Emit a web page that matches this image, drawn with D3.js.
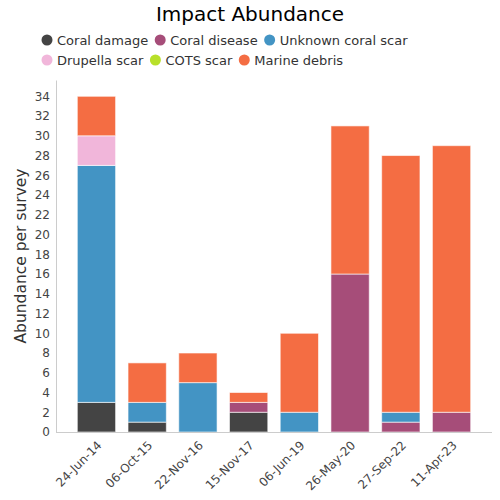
<!DOCTYPE html>
<html>
<head>
<meta charset="utf-8">
<script src="https://cdn.jsdelivr.net/npm/d3@7"></script>
<style>
  body { margin: 0; background: #fff; }
  svg { font-family: "DejaVu Sans", sans-serif; }
</style>
</head>
<body>
<div id="chart"></div>
<script>
const dates = ["24-Jun-14", "06-Oct-15", "22-Nov-16", "15-Nov-17", "06-Jun-19", "26-May-20", "27-Sep-22", "11-Apr-23"];
const seriesNames = ["Coral damage", "Coral disease", "Unknown coral scar", "Drupella scar", "COTS scar", "Marine debris"];
const seriesColors = ["#444444", "#a64d79", "#4394c4", "#f1b6da", "#b8e02a", "#f46d43"];
const coralDamage = [3, 1, 0, 2, 0, 0, 0, 0];
const coralDisease = [0, 0, 0, 1, 0, 16, 1, 2];
const unknownScar = [24, 2, 5, 0, 2, 0, 1, 0];
const drupellaScar = [3, 0, 0, 0, 0, 0, 0, 0];
const cotsScar = [0, 0, 0, 0, 0, 0, 0, 0];
const marineDebris = [4, 4, 3, 1, 8, 15, 26, 27];
const yTicks = d3.range(0, 35, 2);

const seriesValues = [coralDamage, coralDisease, unknownScar, drupellaScar, cotsScar, marineDebris];

const W = 500, H = 500;
const svg = d3.select("#chart").append("svg").attr("width", W).attr("height", H);

const table = dates.map((d, i) => {
  const row = { date: d };
  seriesNames.forEach((s, j) => row[s] = seriesValues[j][i]);
  return row;
});
const stacked = d3.stack().keys(seriesNames)(table);

const x = d3.scaleBand().domain(dates).range([56, 492]).paddingInner(0.245).paddingOuter(0.42);
const y = d3.scaleLinear().domain([0, 35.65]).range([432, 80]);

// title
svg.append("text").attr("x", 250).attr("y", 21).attr("text-anchor", "middle")
  .attr("font-size", 20).attr("fill", "#000").text("Impact Abundance");

// legend
const legendRows = [[0, 1, 2], [3, 4, 5]];
legendRows.forEach((row, r) => {
  let cx = 47;
  const cy = 40 + r * 20;
  row.forEach(j => {
    const g = svg.append("g");
    g.append("circle").attr("cx", cx).attr("cy", cy).attr("r", 5.5).attr("fill", seriesColors[j]);
    const t = g.append("text").attr("x", cx + 10).attr("y", cy + 4.5).attr("font-size", 13)
      .attr("fill", "#333").text(seriesNames[j]);
    const w = t.node().getComputedTextLength();
    cx = cx + 10 + w + 12;
  });
});

// bars
const layers = svg.append("g").selectAll("g").data(stacked).join("g")
  .attr("fill", (d, i) => seriesColors[i]);
layers.selectAll("rect").data(d => d.filter(p => p[1] - p[0] > 0).map(p => ({ p, date: p.data.date })))
  .join("rect")
  .attr("x", d => x(d.date))
  .attr("width", x.bandwidth())
  .attr("y", d => y(d.p[1]))
  .attr("height", d => y(d.p[0]) - y(d.p[1]))
  .attr("stroke", "#ffffff").attr("stroke-opacity", 0.6).attr("stroke-width", 1);

// y axis
const yAxis = svg.append("g").attr("transform", "translate(56,0)")
  .call(d3.axisLeft(y).tickValues(yTicks).tickSize(0).tickPadding(6));
yAxis.select(".domain").attr("stroke", "#ccc");
yAxis.selectAll("text").attr("font-size", 12).attr("fill", "#444").attr("font-family", "DejaVu Sans, sans-serif");

// x axis
const xAxis = svg.append("g").attr("transform", "translate(0,432)")
  .call(d3.axisBottom(x).tickSize(0).tickPadding(0));
xAxis.select(".domain").attr("d", "M56,0.5H492").attr("stroke", "#ccc");
xAxis.selectAll("text").attr("font-size", 12).attr("fill", "#444").attr("font-family", "DejaVu Sans, sans-serif")
  .attr("text-anchor", "end").attr("dy", null).attr("y", 0)
  .attr("transform", "translate(6,14) rotate(-45)");

// y title
svg.append("text").attr("transform", "translate(26,256) rotate(-90)").attr("text-anchor", "middle")
  .attr("font-size", 15.5).attr("fill", "#333").text("Abundance per survey");
</script>
</body>
</html>
